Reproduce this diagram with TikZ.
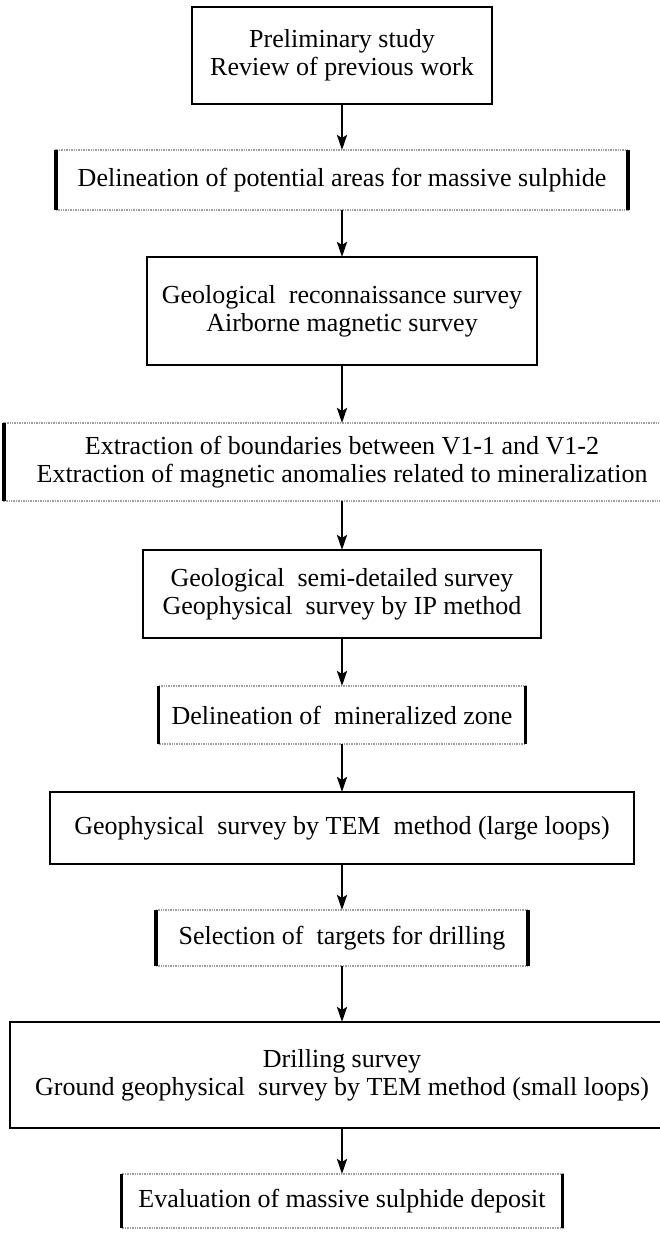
\documentclass[tikz,border=0pt]{standalone}
\usepackage{fontspec}
\setmainfont{Liberation Serif}
\usetikzlibrary{arrows.meta}
\usetikzlibrary{positioning}

\begin{document}
\begin{tikzpicture}[x=1pt,y=1pt]
 \useasboundingbox (0,0) rectangle (659,-1237);
 \tikzstyle{common} = [align=center, inner sep=0pt, outer sep=0pt, font=\fontsize{26}{28}\selectfont];
 \tikzstyle{stage} = [common, draw, line width=2pt];
 \tikzstyle{res} = [common, draw=gray!75, line width=2.6pt, dash pattern=on 1pt off 0.7pt];
 \tikzstyle{side} = [color=black, line width=3.2pt];

 \node (prelim) [stage, minimum width=300pt, minimum height=97pt] at (342,-55.5) {Preliminary study\\Review of previous work};
 \node (delpot) [res, below=46pt of prelim, minimum width=572pt, minimum height=60pt] {Delineation of potential areas for massive sulphide};
 \node (recon) [stage, below=47pt of delpot, minimum width=390pt, minimum height=108pt] {Geological\ \ reconnaissance survey\\Airborne magnetic survey};
 \node (extract) [res, below=58pt of recon, minimum width=676pt, minimum height=78pt] {Extraction of boundaries between V1-1 and V1-2\\Extraction of magnetic anomalies related to mineralization};
 \node (semidet) [stage, below=49pt of extract, minimum width=398pt, minimum height=88pt] {Geological\ \ semi-detailed survey\\Geophysical\ \ survey by IP method};
 \node (delzone) [res, below=48pt of semidet, minimum width=367pt, minimum height=58pt] {Delineation of\ \ mineralized zone};
 \node (temlarge) [stage, below=48pt of delzone, minimum width=584pt, minimum height=72pt] {Geophysical\ \ survey by TEM\ \ method (large loops)};
 \node (targets) [res, below=46pt of temlarge, minimum width=372pt, minimum height=56pt] {Selection of\ \ targets for drilling};
 \node (drilling) [stage, below=56pt of targets, minimum width=664pt, minimum height=106pt] {Drilling survey\\Ground geophysical\ \ survey by TEM method (small loops)};
 \node (evaluate) [res, below=46pt of drilling, minimum width=441pt, minimum height=54pt] {Evaluation of massive sulphide deposit};

 % thick ends of the result boxes
 \foreach \n in {delpot,extract,delzone,targets,evaluate}
  \draw [side] (\n.north west) -- (\n.south west) (\n.north east) -- (\n.south east);

 \tikzstyle{A} = [-{Stealth[length=15pt,width=10pt,inset=3pt]}, color=black, line width=2.6pt]

 \foreach \a/\b in {prelim/delpot,delpot/recon,recon/extract,extract/semidet,semidet/delzone,delzone/temlarge,temlarge/targets,targets/drilling,drilling/evaluate}
  \draw [A] (\a) -- (\b);

\end{tikzpicture}
\end{document}
